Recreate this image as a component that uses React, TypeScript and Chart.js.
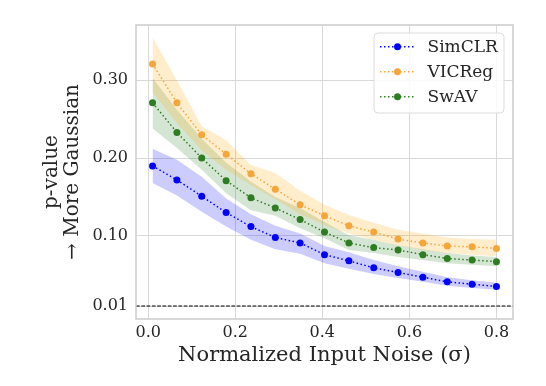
import React, { useEffect, useRef } from "react";
import { Chart, registerables } from "chart.js";

Chart.register(...registerables);

// ---- data ----
const noise = [0.01, 0.066, 0.123, 0.179, 0.236, 0.292, 0.349, 0.405, 0.461, 0.518, 0.574, 0.631, 0.687, 0.744, 0.8];

const simclr = [0.190, 0.172, 0.151, 0.130, 0.112, 0.098, 0.091, 0.076, 0.068, 0.059, 0.053, 0.047, 0.041, 0.038, 0.035];
const simclrUpper = [0.212, 0.198, 0.176, 0.148, 0.128, 0.113, 0.103, 0.087, 0.079, 0.069, 0.061, 0.054, 0.047, 0.043, 0.040];
const simclrLower = [0.168, 0.152, 0.131, 0.112, 0.095, 0.083, 0.077, 0.065, 0.058, 0.051, 0.046, 0.041, 0.036, 0.033, 0.031];

const vicreg = [0.321, 0.271, 0.230, 0.205, 0.180, 0.160, 0.140, 0.126, 0.113, 0.105, 0.096, 0.091, 0.087, 0.086, 0.084];
const vicregUpper = [0.355, 0.300, 0.241, 0.223, 0.191, 0.181, 0.158, 0.140, 0.127, 0.117, 0.108, 0.103, 0.098, 0.096, 0.095];
const vicregLower = [0.285, 0.245, 0.210, 0.185, 0.165, 0.147, 0.128, 0.114, 0.103, 0.095, 0.088, 0.082, 0.078, 0.076, 0.074];

const swav = [0.271, 0.233, 0.200, 0.171, 0.149, 0.136, 0.121, 0.105, 0.091, 0.085, 0.082, 0.076, 0.071, 0.069, 0.067];
const swavUpper = [0.303, 0.262, 0.225, 0.194, 0.170, 0.150, 0.136, 0.118, 0.101, 0.095, 0.088, 0.083, 0.078, 0.075, 0.073];
const swavLower = [0.238, 0.213, 0.185, 0.155, 0.133, 0.126, 0.110, 0.097, 0.082, 0.078, 0.073, 0.069, 0.065, 0.063, 0.061];

const xTicks = [0.0, 0.2, 0.4, 0.6, 0.8];
const yTicks = [0.01, 0.1, 0.2, 0.3];
const threshold = 0.01;

const seriesNames = ["SimCLR", "VICReg", "SwAV"];

const FONT = "'DejaVu Serif', 'Liberation Serif', serif";
const TEXT = "#262626";
const BLUE = "#0000ff";
const ORANGE = "#f5a63a";
const GREEN = "#2f7d23";

const pts = (ys: number[]) => noise.map((x, i) => ({ x, y: ys[i] }));

function band(name: string, fillColor: string, upper: number[], lower: number[]) {
  return [
    {
      label: name + " upper",
      data: pts(upper),
      borderColor: "transparent",
      borderWidth: 0,
      pointRadius: 0,
      fill: false,
      order: 10,
    },
    {
      label: name + " lower",
      data: pts(lower),
      borderColor: "transparent",
      borderWidth: 0,
      pointRadius: 0,
      fill: "-1",
      backgroundColor: fillColor,
      order: 10,
    },
  ];
}

function line(name: string, color: string, ys: number[]) {
  return {
    label: name,
    data: pts(ys),
    borderColor: color,
    backgroundColor: color,
    borderWidth: 1.5,
    borderDash: [1.5, 2.5],
    pointRadius: 3.5,
    pointBorderWidth: 0,
    pointBackgroundColor: color,
    fill: false,
    order: 0,
    isMain: true,
  };
}

const framePlugin = {
  id: "frameAndThreshold",
  beforeDatasetsDraw(chart: any) {
    const { ctx, chartArea: a, scales } = chart;
    const y = scales.y.getPixelForValue(threshold);
    ctx.save();
    ctx.strokeStyle = "#000";
    ctx.lineWidth = 1;
    ctx.setLineDash([3.7, 1.6]);
    ctx.beginPath();
    ctx.moveTo(a.left, y);
    ctx.lineTo(a.right, y);
    ctx.stroke();
    ctx.restore();
  },
  afterDatasetsDraw(chart: any) {
    const { ctx, chartArea: a } = chart;
    ctx.save();
    ctx.strokeStyle = "#cccccc";
    ctx.lineWidth = 1.5;
    ctx.strokeRect(a.left, a.top, a.right - a.left, a.bottom - a.top);
    ctx.restore();
  },
};

const legendPlugin = {
  id: "insideLegend",
  afterDraw(chart: any) {
    const { ctx, chartArea: a } = chart;
    const items = chart.data.datasets.filter((d: any) => d.isMain);
    const w = 130;
    const h = 80;
    const left = a.right - 9 - w;
    const top = a.top + 8;
    ctx.save();
    ctx.beginPath();
    ctx.roundRect(left, top, w, h, 4);
    ctx.fillStyle = "rgba(255,255,255,0.85)";
    ctx.fill();
    ctx.strokeStyle = "#dcdcdc";
    ctx.lineWidth = 1;
    ctx.stroke();
    items.forEach((d: any, i: number) => {
      const cy = top + 13.7 + i * 25;
      ctx.strokeStyle = d.borderColor;
      ctx.lineWidth = 1.5;
      ctx.setLineDash([1.5, 2.5]);
      ctx.beginPath();
      ctx.moveTo(left + 6, cy);
      ctx.lineTo(left + 41, cy);
      ctx.stroke();
      ctx.setLineDash([]);
      ctx.fillStyle = d.borderColor;
      ctx.beginPath();
      ctx.arc(left + 23.5, cy, 3.5, 0, Math.PI * 2);
      ctx.fill();
      ctx.fillStyle = TEXT;
      ctx.font = `17px ${FONT}`;
      ctx.textBaseline = "middle";
      ctx.textAlign = "left";
      ctx.fillText(d.label, left + 53.5, cy + 1);
    });
    ctx.restore();
  },
};

export default function App() {
  const ref = useRef<HTMLCanvasElement | null>(null);

  useEffect(() => {
    if (!ref.current) return;
    const chart = new Chart(ref.current, {
      type: "line",
      data: {
        datasets: [
          ...band(seriesNames[0], "rgba(0,0,255,0.2)", simclrUpper, simclrLower),
          ...band(seriesNames[1], "rgba(255,165,0,0.2)", vicregUpper, vicregLower),
          ...band(seriesNames[2], "rgba(47,125,35,0.2)", swavUpper, swavLower),
          line(seriesNames[0], BLUE, simclr),
          line(seriesNames[1], ORANGE, vicreg),
          line(seriesNames[2], GREEN, swav),
        ] as any,
      },
      options: {
        animation: false,
        responsive: true,
        maintainAspectRatio: false,
        layout: { padding: { left: 0, right: 33, top: 25, bottom: 18 } },
        plugins: {
          legend: { display: false },
          tooltip: { enabled: false },
        },
        scales: {
          x: {
            type: "linear",
            min: -0.028,
            max: 0.838,
            afterBuildTicks: (s: any) => {
              s.ticks = xTicks.map((v) => ({ value: v }));
            },
            afterFit: (s: any) => {
              s.height = 49;
            },
            ticks: {
              callback: (v: any) => Number(v).toFixed(1),
              font: { family: FONT, size: 16 },
              color: TEXT,
              padding: 4,
              maxRotation: 0,
              autoSkip: false,
            },
            grid: { color: "#d9d9d9", lineWidth: 1, drawTicks: false },
            border: { display: false },
            title: {
              display: true,
              text: "Normalized Input Noise (σ)",
              font: { family: FONT, size: 21 },
              color: TEXT,
              padding: { top: 0, bottom: 0 },
            },
          },
          y: {
            type: "linear",
            min: -0.0067,
            max: 0.371,
            afterBuildTicks: (s: any) => {
              s.ticks = yTicks.map((v) => ({ value: v }));
            },
            afterFit: (s: any) => {
              s.width = 136;
            },
            ticks: {
              callback: (v: any) => Number(v).toFixed(2),
              font: { family: FONT, size: 16 },
              color: TEXT,
              padding: 8,
              autoSkip: false,
            },
            grid: { color: "#d9d9d9", lineWidth: 1, drawTicks: false },
            border: { display: false },
            title: {
              display: true,
              text: ["p-value", "→ More Gaussian"],
              font: { family: FONT, size: 20, lineHeight: 1.05 },
              color: TEXT,
              padding: { top: 41, bottom: 0 },
            },
          },
        },
      },
      plugins: [framePlugin, legendPlugin],
    });
    return () => chart.destroy();
  }, []);

  return (
    <div style={{ position: "absolute", left: 0, top: 0, width: 546, height: 386 }}>
      <canvas ref={ref} style={{ width: "100%", height: "100%" }} />
    </div>
  );
}
